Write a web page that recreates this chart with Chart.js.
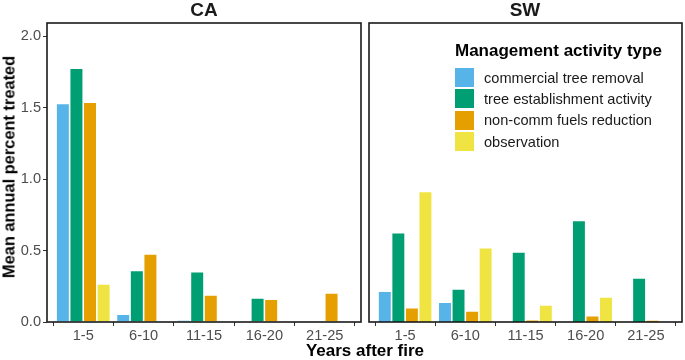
<!DOCTYPE html>
<html>
<head>
<meta charset="utf-8">
<script src="https://cdn.jsdelivr.net/npm/chart.js@4"></script>
<style>
  html, body { margin:0; padding:0; background:#fff; }
  #wrap { position:relative; width:685px; height:360px; overflow:hidden; font-family:"Liberation Sans", Arial, sans-serif; }
  #caBox { position:absolute; left:0; top:0; width:364px; height:360px; }
  #swBox { position:absolute; left:364px; top:0; width:321px; height:360px; }
  .strip { position:absolute; top:0px; line-height:19px; font-weight:bold; font-size:19px; color:#1a1a1a; transform:translateX(-50%); white-space:nowrap; }
  #xtitle { position:absolute; top:342px; line-height:17px; left:365px; transform:translateX(-50%); font-weight:bold; font-size:17px; color:#000; white-space:nowrap; }
  #ytitle { position:absolute; left:9px; top:167px; line-height:17px; font-weight:bold; font-size:16.4px; color:#000; white-space:nowrap; transform:translate(-50%,-50%) rotate(-90deg); }
  #legend { position:absolute; left:455px; top:41px; }
  #legend .ttl { font-weight:bold; font-size:17px; line-height:20px; color:#000; margin-bottom:6px; white-space:nowrap; }
  #legend .row { display:flex; align-items:center; height:21.3px; }
  #legend .sw { width:19px; height:19px; margin-right:10px; }
  #legend .lab { font-size:14.6px; color:#1a1a1a; white-space:nowrap; }
</style>
</head>
<body>
<div id="wrap">
  <div id="caBox"><canvas id="ca"></canvas></div>
  <div id="swBox"><canvas id="sw"></canvas></div>
  <div class="strip" style="left:204px;">CA</div>
  <div class="strip" style="left:525px;">SW</div>
  <div id="xtitle">Years after fire</div>
  <div id="ytitle">Mean annual percent treated</div>
  <div id="legend"></div>
</div>
<script>
// ---- data ----
const categories = ["1-5", "6-10", "11-15", "16-20", "21-25"];
const seriesNames = ["commercial tree removal", "tree establishment activity", "non-comm fuels reduction", "observation"];
const seriesColors = ["#56B4E9", "#009E73", "#E69F00", "#F0E442"];

// CA region
const caCommercial    = [1.53, 0.054, 0.014, null, null];
const caEstablishment = [1.776, 0.36, 0.352, 0.168, null];
const caFuels         = [1.538, 0.476, 0.189, 0.159, 0.203];
const caObservation   = [0.266, null, null, null, null];

// SW region
const swCommercial    = [0.215, 0.138, null, null, null];
const swEstablishment = [0.625, 0.231, 0.49, 0.711, 0.308];
const swFuels         = [0.10, 0.077, 0.016, 0.044, 0.014];
const swObservation   = [0.914, 0.52, 0.119, 0.175, null];

const yTicks = [0, 0.5, 1.0, 1.5, 2.0];
const yMax = 2.093;

// ---- legend (HTML) ----
const leg = document.getElementById('legend');
leg.innerHTML = '<div class="ttl">Management activity type</div>' +
  seriesNames.map((n, i) => '<div class="row"><div class="sw" style="background:' + seriesColors[i] + '"></div><div class="lab">' + n + '</div></div>').join('');

const FONT = '"Liberation Sans", Arial, sans-serif';

const panelBorder = {
  id: 'panelBorder',
  afterDraw(chart) {
    const {ctx, chartArea: a} = chart;
    ctx.save();
    ctx.strokeStyle = '#1a1a1a';
    ctx.lineWidth = 1.6;
    ctx.strokeRect(a.left, a.top, a.right - a.left, a.bottom - a.top);
    ctx.restore();
  }
};

function makeDatasets(arrs) {
  return arrs.map((arr, i) => ({
    label: seriesNames[i],
    data: arr.map((v, j) => ({x: j + 1, y: v})),
    backgroundColor: seriesColors[i],
    borderColor: '#ffffff',
    borderWidth: 0.8,
    borderSkipped: 'start',
    categoryPercentage: 0.9,
    barPercentage: 1.0
  }));
}

function makeChart(id, arrs, showY, padding) {
  return new Chart(document.getElementById(id), {
    type: 'bar',
    data: { datasets: makeDatasets(arrs) },
    plugins: [panelBorder],
    options: {
      responsive: true,
      maintainAspectRatio: false,
      animation: false,
      layout: { padding: padding },
      plugins: { legend: { display: false }, tooltip: { enabled: false }, title: { display: false } },
      scales: {
        x: {
          type: 'linear',
          min: 0.4,
          max: 5.6,
          offset: false,
          afterBuildTicks: s => { s.ticks = categories.map((c, i) => ({value: i + 1})); },
          afterFit: s => { s.height = 38; },
          ticks: {
            autoSkip: false,
            maxRotation: 0,
            padding: 1,
            color: '#4d4d4d',
            font: { family: FONT, size: 14.6 },
            callback: v => categories[Math.round(v) - 1]
          },
          grid: { display: true, drawOnChartArea: false, drawTicks: true, tickLength: 4, color: '#333333', lineWidth: 1 },
          border: { display: false }
        },
        y: {
          display: showY,
          min: 0,
          max: yMax,
          afterBuildTicks: s => { s.ticks = yTicks.map(v => ({value: v})); },
          afterFit: s => { s.width = showY ? 47 : 0; },
          ticks: {
            padding: 2,
            color: '#4d4d4d',
            font: { family: FONT, size: 14.6 },
            callback: v => v.toFixed(1)
          },
          grid: { display: true, drawOnChartArea: false, drawTicks: true, tickLength: 4, color: '#333333', lineWidth: 1 },
          border: { display: false },
          title: { display: false }
        }
      }
    }
  });
}

makeChart('ca', [caCommercial, caEstablishment, caFuels, caObservation], true, {top: 23, right: 3, left: 0, bottom: 0});
makeChart('sw', [swCommercial, swEstablishment, swFuels, swObservation], false, {top: 23, right: 3, left: 5, bottom: 0});
</script>
</body>
</html>
